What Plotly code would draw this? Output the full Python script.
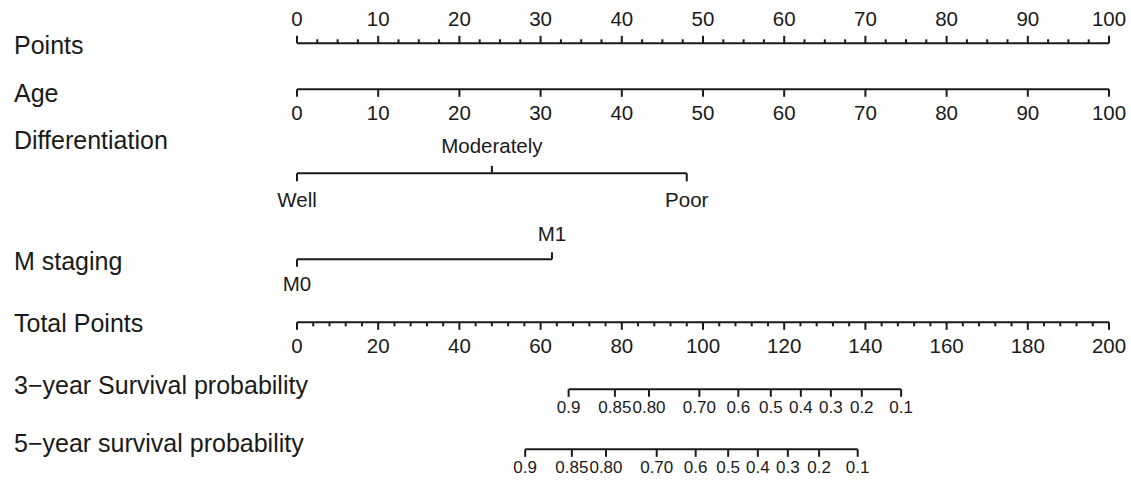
import plotly.graph_objects as go

# ---------------- data ----------------
points_ticks = [0, 10, 20, 30, 40, 50, 60, 70, 80, 90, 100]
points_minor_step = 2.5
age_ticks = [0, 10, 20, 30, 40, 50, 60, 70, 80, 90, 100]
age_points = [0, 10, 20, 30, 40, 50, 60, 70, 80, 90, 100]
diff_levels = ["Well", "Moderately", "Poor"]
diff_points = [0, 24, 48]
m_levels = ["M0", "M1"]
m_points = [0, 31.4]
total_ticks = [0, 20, 40, 60, 80, 100, 120, 140, 160, 180, 200]
total_minor_step = 4
surv_labels = ["0.9", "0.85", "0.80", "0.70", "0.6", "0.5", "0.4", "0.3", "0.2", "0.1"]
surv3_total = [66.9, 78.3, 86.7, 99.1, 108.7, 116.7, 124.1, 131.5, 139.1, 148.8]
surv5_total = [56.2, 67.7, 76.1, 88.6, 98.2, 106.2, 113.5, 120.9, 128.6, 138.1]
row_labels = ["Points", "Age", "Differentiation", "M staging", "Total Points",
              "3\u2212year Survival probability", "5\u2212year survival probability"]

# ---------------- layout constants (window pixel coordinates) ----------------
FW, FH = 1131, 481
PX0, PX100 = 297.0, 1109.0
ppp = (PX100 - PX0) / 100.0
xr = [(0 - PX0) / ppp, (FW - PX0) / ppp]
xr2 = [2 * xr[0], 2 * xr[1]]
COL = "#1a1a1a"
FONT = "Liberation Sans, Arial, sans-serif"
LW = 2
TICK_FS = 20.5
LEV_FS = 20.5
SURV_FS = 17
ROW_FS = 25

row_label_y = [45, 93, 140, 261, 323, 385, 443]

fig = go.Figure()


def seg_trace(xs, y0s, y1s, axis="x"):
    X, Y = [], []
    for x, a, b in zip(xs, y0s, y1s):
        X += [x, x, None]
        Y += [a, b, None]
    fig.add_trace(go.Scatter(x=X, y=Y, mode="lines", xaxis=axis, yaxis="y",
                             line=dict(color=COL, width=LW), hoverinfo="skip",
                             showlegend=False))


def hline(x0, x1, y, axis="x"):
    fig.add_trace(go.Scatter(x=[x0, x1], y=[y, y], mode="lines", xaxis=axis, yaxis="y",
                             line=dict(color=COL, width=LW), hoverinfo="skip",
                             showlegend=False))


def texts(xs, ys, labels, size, axis="x"):
    fig.add_trace(go.Scatter(x=xs, y=ys, text=labels, mode="text", xaxis=axis, yaxis="y",
                             textposition="middle center",
                             textfont=dict(family=FONT, size=size, color=COL),
                             hoverinfo="skip", showlegend=False, cliponaxis=False))


# Points axis (ticks up, labels above)
yP = 43.3
hline(min(points_ticks), max(points_ticks), yP)
seg_trace(points_ticks, [yP] * len(points_ticks), [yP - 7.5] * len(points_ticks))
n_minor = int((max(points_ticks) - min(points_ticks)) / points_minor_step)
minor = [min(points_ticks) + i * points_minor_step for i in range(n_minor + 1)]
minor = [m for m in minor if m not in points_ticks]
seg_trace(minor, [yP] * len(minor), [yP - 4] * len(minor))
texts(points_ticks, [20.5] * len(points_ticks), [str(t) for t in points_ticks], TICK_FS)

# Age axis (ticks down, labels below)
yA = 89.3
hline(min(age_points), max(age_points), yA)
seg_trace(age_points, [yA] * len(age_points), [yA + 7.5] * len(age_points))
texts(age_points, [114.5] * len(age_points), [str(t) for t in age_ticks], TICK_FS)

# Differentiation
yD = 173.3
hline(min(diff_points), max(diff_points), yD)
diff_up = [False, True, False]
seg_trace(diff_points, [yD] * 3, [yD - 7.5 if u else yD + 8 for u in diff_up])
texts(diff_points, [148 if u else 201.5 for u in diff_up], diff_levels, LEV_FS)

# M staging
yM = 259.3
hline(min(m_points), max(m_points), yM)
m_up = [False, True]
seg_trace(m_points, [yM] * 2, [yM - 7 if u else yM + 7.5 for u in m_up])
texts(m_points, [236 if u else 286 for u in m_up], m_levels, LEV_FS)

# Total points (secondary scale)
yT = 322.3
hline(min(total_ticks), max(total_ticks), yT, "x2")
seg_trace(total_ticks, [yT] * len(total_ticks), [yT + 7.5] * len(total_ticks), "x2")
tminor = list(range(min(total_ticks), max(total_ticks) + 1, total_minor_step))
tminor = [m for m in tminor if m not in total_ticks]
seg_trace(tminor, [yT] * len(tminor), [yT + 4] * len(tminor), "x2")
texts(total_ticks, [347.5] * len(total_ticks), [str(t) for t in total_ticks], TICK_FS, "x2")

# Survival scales
for vals, yS, yL in [(surv3_total, 389.3, 408.5), (surv5_total, 449.3, 469)]:
    hline(min(vals), max(vals), yS, "x2")
    seg_trace(vals, [yS] * len(vals), [yS + 7.5] * len(vals), "x2")
    texts(vals, [yL] * len(vals), surv_labels, SURV_FS, "x2")

# Row labels
for lab, y in zip(row_labels, row_label_y):
    fig.add_annotation(x=12 / FW, xref="paper", y=y, yref="y", text=lab,
                       showarrow=False, xanchor="left", yanchor="middle",
                       font=dict(family=FONT, size=ROW_FS, color=COL))

fig.update_layout(
    width=FW, height=FH, margin=dict(l=0, r=0, t=0, b=0),
    paper_bgcolor="white", plot_bgcolor="white", showlegend=False,
    xaxis=dict(range=xr, visible=False, fixedrange=True),
    xaxis2=dict(range=xr2, visible=False, overlaying="x", fixedrange=True),
    yaxis=dict(range=[FH, 0], visible=False, fixedrange=True),
)

fig.write_html("out.html", config={"displayModeBar": False},
               post_script="document.body.style.margin='0px';document.body.style.overflow='hidden';")
